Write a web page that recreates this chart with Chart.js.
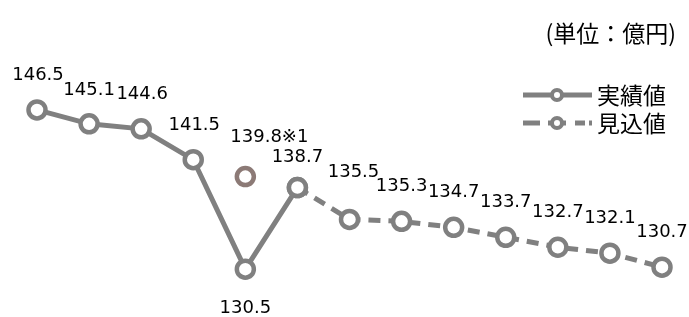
<!DOCTYPE html>
<html lang="ja">
<head>
<meta charset="UTF-8">
<title>実績値・見込値</title>
<script src="https://cdn.jsdelivr.net/npm/chart.js"></script>
<style>
  * { margin: 0; padding: 0; box-sizing: border-box; }
  body { background: #fff; width: 689px; height: 317px; overflow: hidden; }
  #chart { display: block; }
</style>
</head>
<body>
<canvas id="chart" width="689" height="317"></canvas>
<script>
// data
const categories = ['1', '2', '3', '4', '5', '6', '7', '8', '9', '10', '11', '12', '13'];
const actualValues = [146.5, 145.1, 144.6, 141.5, 130.5, 138.7, null, null, null, null, null, null, null];
const forecastValues = [null, null, null, null, null, 138.7, 135.5, 135.3, 134.7, 133.7, 132.7, 132.1, 130.7];
const noteValues = [null, null, null, null, 139.8, null, null, null, null, null, null, null, null];
const noteLabel = '139.8※1';
const seriesNames = ['実績値', '見込値'];
const unitText = '(単位：億円)';

// label nudges (dx, dy of text centre from the point)
const actualLabelPos = [[1, -35], [0, -34], [1, -35], [1, -34], [0, 39], [0, -30]];
const forecastLabelPos = { 6: [4, -47] };
const notePos = [24, -39];

const GRAY = '#808080';
const BROWN = '#8c7a76';
const NUM_FONT = '18px "DejaVu Sans", Verdana, sans-serif';
const JP_FONT = '23px "Noto Sans CJK JP", sans-serif';

const labelPlugin = {
  id: 'labels',
  afterDatasetsDraw(chart) {
    const ctx = chart.ctx;
    ctx.save();
    ctx.font = NUM_FONT;
    ctx.fillStyle = '#000';
    ctx.textAlign = 'center';
    ctx.textBaseline = 'middle';

    const a = chart.getDatasetMeta(0).data;
    actualValues.forEach((v, i) => {
      if (v === null) return;
      const [dx, dy] = actualLabelPos[i];
      ctx.fillText(v.toFixed(1), a[i].x + dx, a[i].y + dy);
    });
    const f = chart.getDatasetMeta(1).data;
    forecastValues.forEach((v, i) => {
      if (v === null || actualValues[i] !== null) return;
      const [dx, dy] = forecastLabelPos[i] || [0, -35];
      ctx.fillText(v.toFixed(1), f[i].x + dx, f[i].y + dy);
    });
    const n = chart.getDatasetMeta(2).data;
    noteValues.forEach((v, i) => {
      if (v === null) return;
      ctx.fillText(noteLabel, n[i].x + notePos[0], n[i].y + notePos[1]);
    });

    // unit
    ctx.font = JP_FONT;
    ctx.textAlign = 'right';
    ctx.fillText(unitText, 676, 33);

    // legend
    const rows = [{ y: 95, dash: false }, { y: 123, dash: true }];
    rows.forEach((r, k) => {
      ctx.strokeStyle = GRAY;
      ctx.lineWidth = 5;
      ctx.lineCap = 'butt';
      const segs = r.dash ? [[523, 540], [548, 566], [575, 585], [589, 592]] : [[523, 592]];
      segs.forEach(s => {
        ctx.beginPath();
        ctx.moveTo(s[0], r.y);
        ctx.lineTo(s[1], r.y);
        ctx.stroke();
      });
      ctx.beginPath();
      ctx.arc(557, r.y, 5, 0, Math.PI * 2);
      ctx.fillStyle = '#fff';
      ctx.fill();
      ctx.lineWidth = 4;
      ctx.stroke();
      ctx.fillStyle = '#000';
      ctx.textAlign = 'left';
      ctx.fillText(seriesNames[k], 597, r.y);
    });
    ctx.restore();
  }
};

const pointStyle = {
  pointRadius: 8.5,
  pointBorderWidth: 4.5,
  pointBackgroundColor: '#fff',
  clip: false
};

new Chart(document.getElementById('chart'), {
  type: 'line',
  data: {
    labels: categories,
    datasets: [
      Object.assign({
        label: seriesNames[0],
        data: actualValues,
        borderColor: GRAY,
        borderWidth: 5,
        pointBorderColor: GRAY,
        order: 2
      }, pointStyle),
      Object.assign({
        label: seriesNames[1],
        data: forecastValues,
        borderColor: GRAY,
        borderWidth: 5,
        borderDash: [12, 8],
        pointBorderColor: GRAY,
        order: 1
      }, pointStyle),
      Object.assign({
        label: '※1',
        data: noteValues,
        showLine: false,
        pointBorderColor: BROWN,
        order: 0
      }, pointStyle)
    ]
  },
  options: {
    responsive: false,
    animation: false,
    events: [],
    layout: { padding: { top: 95, bottom: 23, left: 37, right: 27 } },
    scales: {
      x: { display: false, offset: false },
      y: { display: false, min: 128, max: 148 }
    },
    plugins: {
      legend: { display: false },
      tooltip: { enabled: false }
    }
  },
  plugins: [labelPlugin]
});
</script>
</body>
</html>
